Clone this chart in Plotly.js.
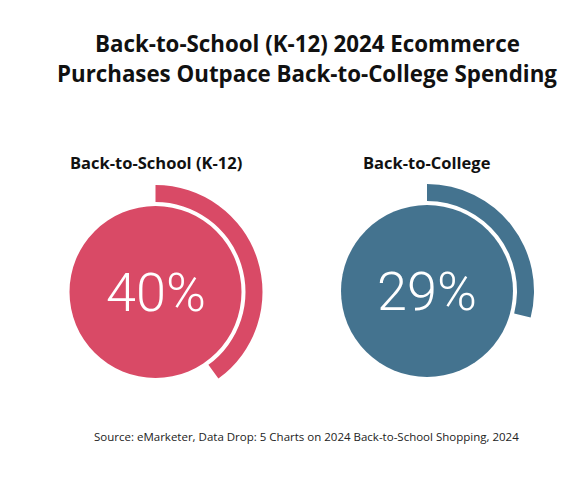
<!DOCTYPE html>
<html><head><meta charset="utf-8">
<script src="https://cdn.plot.ly/plotly-3.0.1.min.js"></script>
<style>html,body{margin:0;padding:0;background:#fff}</style>
</head><body><div id="chart" style="width:586px;height:494px"></div>
<script>
const categories = ["Back-to-School (K-12)", "Back-to-College"];
const shares = [40, 29];
const colors = ["#D94A66", "#44738F"];
const titleLines = ["Back-to-School (K-12) 2024 Ecommerce", "Purchases Outpace Back-to-College Spending"];
const sourceText = "Source: eMarketer, Data Drop: 5 Charts on 2024 Back-to-School Shopping, 2024";

const W = 586, H = 494;
const centers = [[155.5, 292], [427, 291]];
const rOuter = 107, rInner = 90, rCircle = 86;

function dom(cx, cy, r) {
  return {x: [(cx - r) / W, (cx + r) / W], y: [1 - (cy + r) / H, 1 - (cy - r) / H]};
}

const data = [];
const annotations = [];
categories.forEach((cat, i) => {
  const [cx, cy] = centers[i];
  data.push({
    type: 'pie', values: [shares[i], 100 - shares[i]], labels: ['share', 'rest'],
    marker: {colors: [colors[i], 'rgba(0,0,0,0)'], line: {width: 0}},
    hole: rInner / rOuter, sort: false, direction: 'clockwise', rotation: 0,
    textinfo: 'none', hoverinfo: 'skip', showlegend: false,
    domain: dom(cx, cy, rOuter)
  });
  data.push({
    type: 'pie', values: [100], labels: ['circle'],
    marker: {colors: [colors[i]], line: {width: 0}},
    textinfo: 'none', hoverinfo: 'skip', showlegend: false,
    domain: dom(cx, cy, rCircle)
  });
  annotations.push({
    text: shares[i] + '%', x: cx / W, y: 1 - cy / H, xref: 'paper', yref: 'paper',
    showarrow: false, xanchor: 'center', yanchor: 'middle',
    font: {family: 'Roboto', size: 54, color: '#ffffff', weight: 300}
  });
  annotations.push({
    text: '<b>' + cat + '</b>', x: cx / W, y: 1 - 163 / H, xref: 'paper', yref: 'paper',
    showarrow: false, xanchor: 'center', yanchor: 'middle',
    font: {family: 'Open Sans', size: 16.5, color: '#111111'}
  });
});
titleLines.forEach((t, k) => {
  annotations.push({
    text: '<b>' + t + '</b>', x: 307 / W, y: 1 - (44 + 30 * k) / H, xref: 'paper', yref: 'paper',
    showarrow: false, xanchor: 'center', yanchor: 'middle',
    font: {family: 'Open Sans', size: 22.3, color: '#111111'}
  });
});
annotations.push({
  text: sourceText, x: 306 / W, y: 1 - 436 / H, xref: 'paper', yref: 'paper',
  showarrow: false, xanchor: 'center', yanchor: 'middle',
  font: {family: 'Open Sans', size: 11.5, color: '#222222'}
});

const layout = {
  width: W, height: H, margin: {l: 0, r: 0, t: 0, b: 0},
  paper_bgcolor: '#ffffff', plot_bgcolor: '#ffffff',
  annotations: annotations,
  showlegend: false
};
Plotly.newPlot('chart', data, layout, {displayModeBar: false, staticPlot: true});
</script></body></html>
